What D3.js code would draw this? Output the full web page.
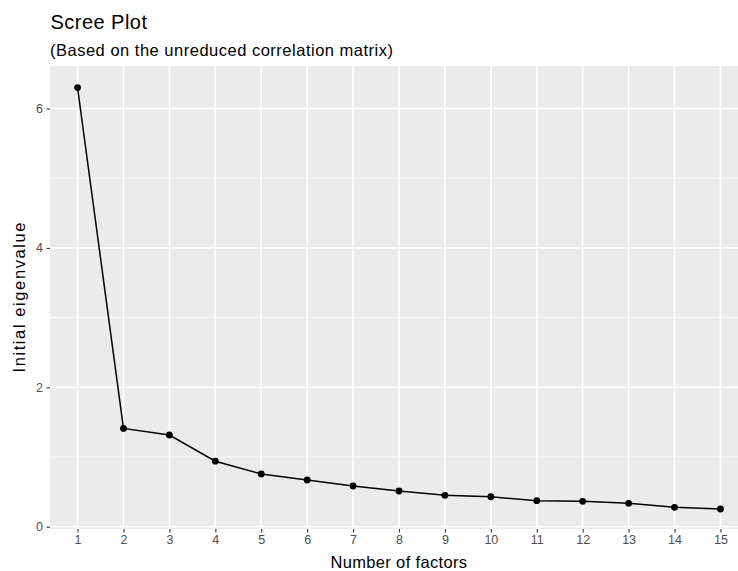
<!DOCTYPE html>
<html>
<head>
<meta charset="utf-8">
<script src="https://cdn.jsdelivr.net/npm/d3@7"></script>
<style>
  html, body { margin: 0; padding: 0; background: #fff; }
  svg { display: block; font-family: "Liberation Sans", Arial, sans-serif; }
</style>
</head>
<body>
<svg id="chart" width="738" height="571"></svg>
<script>
const factors = [1, 2, 3, 4, 5, 6, 7, 8, 9, 10, 11, 12, 13, 14, 15];
const eigenvalues = [6.30, 1.41, 1.316, 0.94, 0.756, 0.67, 0.584, 0.512, 0.45, 0.43, 0.373, 0.364, 0.335, 0.278, 0.254];
const yMajorTicks = [0, 2, 4, 6];
const yMinorTicks = [1, 3, 5];
const titleText = "Scree Plot";
const subtitleText = "(Based on the unreduced correlation matrix)";
const xTitle = "Number of factors";
const yTitle = "Initial eigenvalue";

const svg = d3.select("#chart");
const panel = { left: 50, right: 748, top: 66, bottom: 529 };

const x = d3.scalePoint().domain(factors).range([panel.left, panel.right]).padding(0.6);
const y = d3.scaleLinear().domain([-0.033, 6.61]).range([panel.bottom, panel.top]);

// panel background
svg.append("rect")
  .attr("x", panel.left).attr("y", panel.top)
  .attr("width", panel.right - panel.left).attr("height", panel.bottom - panel.top)
  .attr("fill", "#EBEBEB");

// minor gridlines
svg.append("g").selectAll("line").data(yMinorTicks).join("line")
  .attr("x1", panel.left).attr("x2", panel.right)
  .attr("y1", d => y(d)).attr("y2", d => y(d))
  .attr("stroke", "#fff").attr("stroke-width", 0.8);

// major gridlines
svg.append("g").selectAll("line").data(yMajorTicks).join("line")
  .attr("x1", panel.left).attr("x2", panel.right)
  .attr("y1", d => y(d)).attr("y2", d => y(d))
  .attr("stroke", "#fff").attr("stroke-width", 1.6);
svg.append("g").selectAll("line").data(factors).join("line")
  .attr("x1", d => x(d)).attr("x2", d => x(d))
  .attr("y1", panel.top).attr("y2", panel.bottom)
  .attr("stroke", "#fff").attr("stroke-width", 1.6);

// axes
const xAxis = d3.axisBottom(x).tickSize(3.5).tickPadding(3);
const gx = svg.append("g").attr("transform", `translate(0,${panel.bottom})`).call(xAxis);
gx.select(".domain").remove();
gx.selectAll(".tick line").attr("stroke", "#333").attr("stroke-width", 1.1);
gx.selectAll(".tick text").attr("fill", "#4D4D4D").attr("font-size", "12.5px")
  .attr("font-family", "'Liberation Sans', Arial, sans-serif");

const yAxis = d3.axisLeft(y).tickValues(yMajorTicks).tickFormat(d3.format("d")).tickSize(3.5).tickPadding(3.5);
const gy = svg.append("g").attr("transform", `translate(${panel.left},0)`).call(yAxis);
gy.select(".domain").remove();
gy.selectAll(".tick line").attr("stroke", "#333").attr("stroke-width", 1.1);
gy.selectAll(".tick text").attr("fill", "#4D4D4D").attr("font-size", "12.5px")
  .attr("font-family", "'Liberation Sans', Arial, sans-serif");

// line and points
const line = d3.line().x((d, i) => x(factors[i])).y(d => y(d));
svg.append("path").datum(eigenvalues)
  .attr("d", line).attr("fill", "none")
  .attr("stroke", "#000").attr("stroke-width", 1.5);
svg.append("g").selectAll("circle").data(eigenvalues).join("circle")
  .attr("cx", (d, i) => x(factors[i])).attr("cy", d => y(d))
  .attr("r", 3.4).attr("fill", "#000");

// titles
svg.append("text").attr("x", panel.left + 0.5).attr("y", 29)
  .attr("font-size", "20px").attr("fill", "#000")
  .attr("textLength", 96.5).attr("lengthAdjust", "spacing").text(titleText);
svg.append("text").attr("x", panel.left).attr("y", 55.5)
  .attr("font-size", "16.5px").attr("fill", "#000")
  .attr("textLength", 343).attr("lengthAdjust", "spacing").text(subtitleText);
svg.append("text").attr("x", (panel.left + panel.right) / 2 - 0.5 - 68).attr("y", 567.5)
  .attr("font-size", "16.5px").attr("fill", "#000")
  .attr("textLength", 136.5).attr("lengthAdjust", "spacing").text(xTitle);
svg.append("text")
  .attr("transform", `translate(24.5,${(panel.top + panel.bottom) / 2 + 75}) rotate(-90)`)
  .attr("font-size", "16.5px").attr("fill", "#000")
  .attr("textLength", 150).attr("lengthAdjust", "spacing").text(yTitle);
</script>
</body>
</html>
